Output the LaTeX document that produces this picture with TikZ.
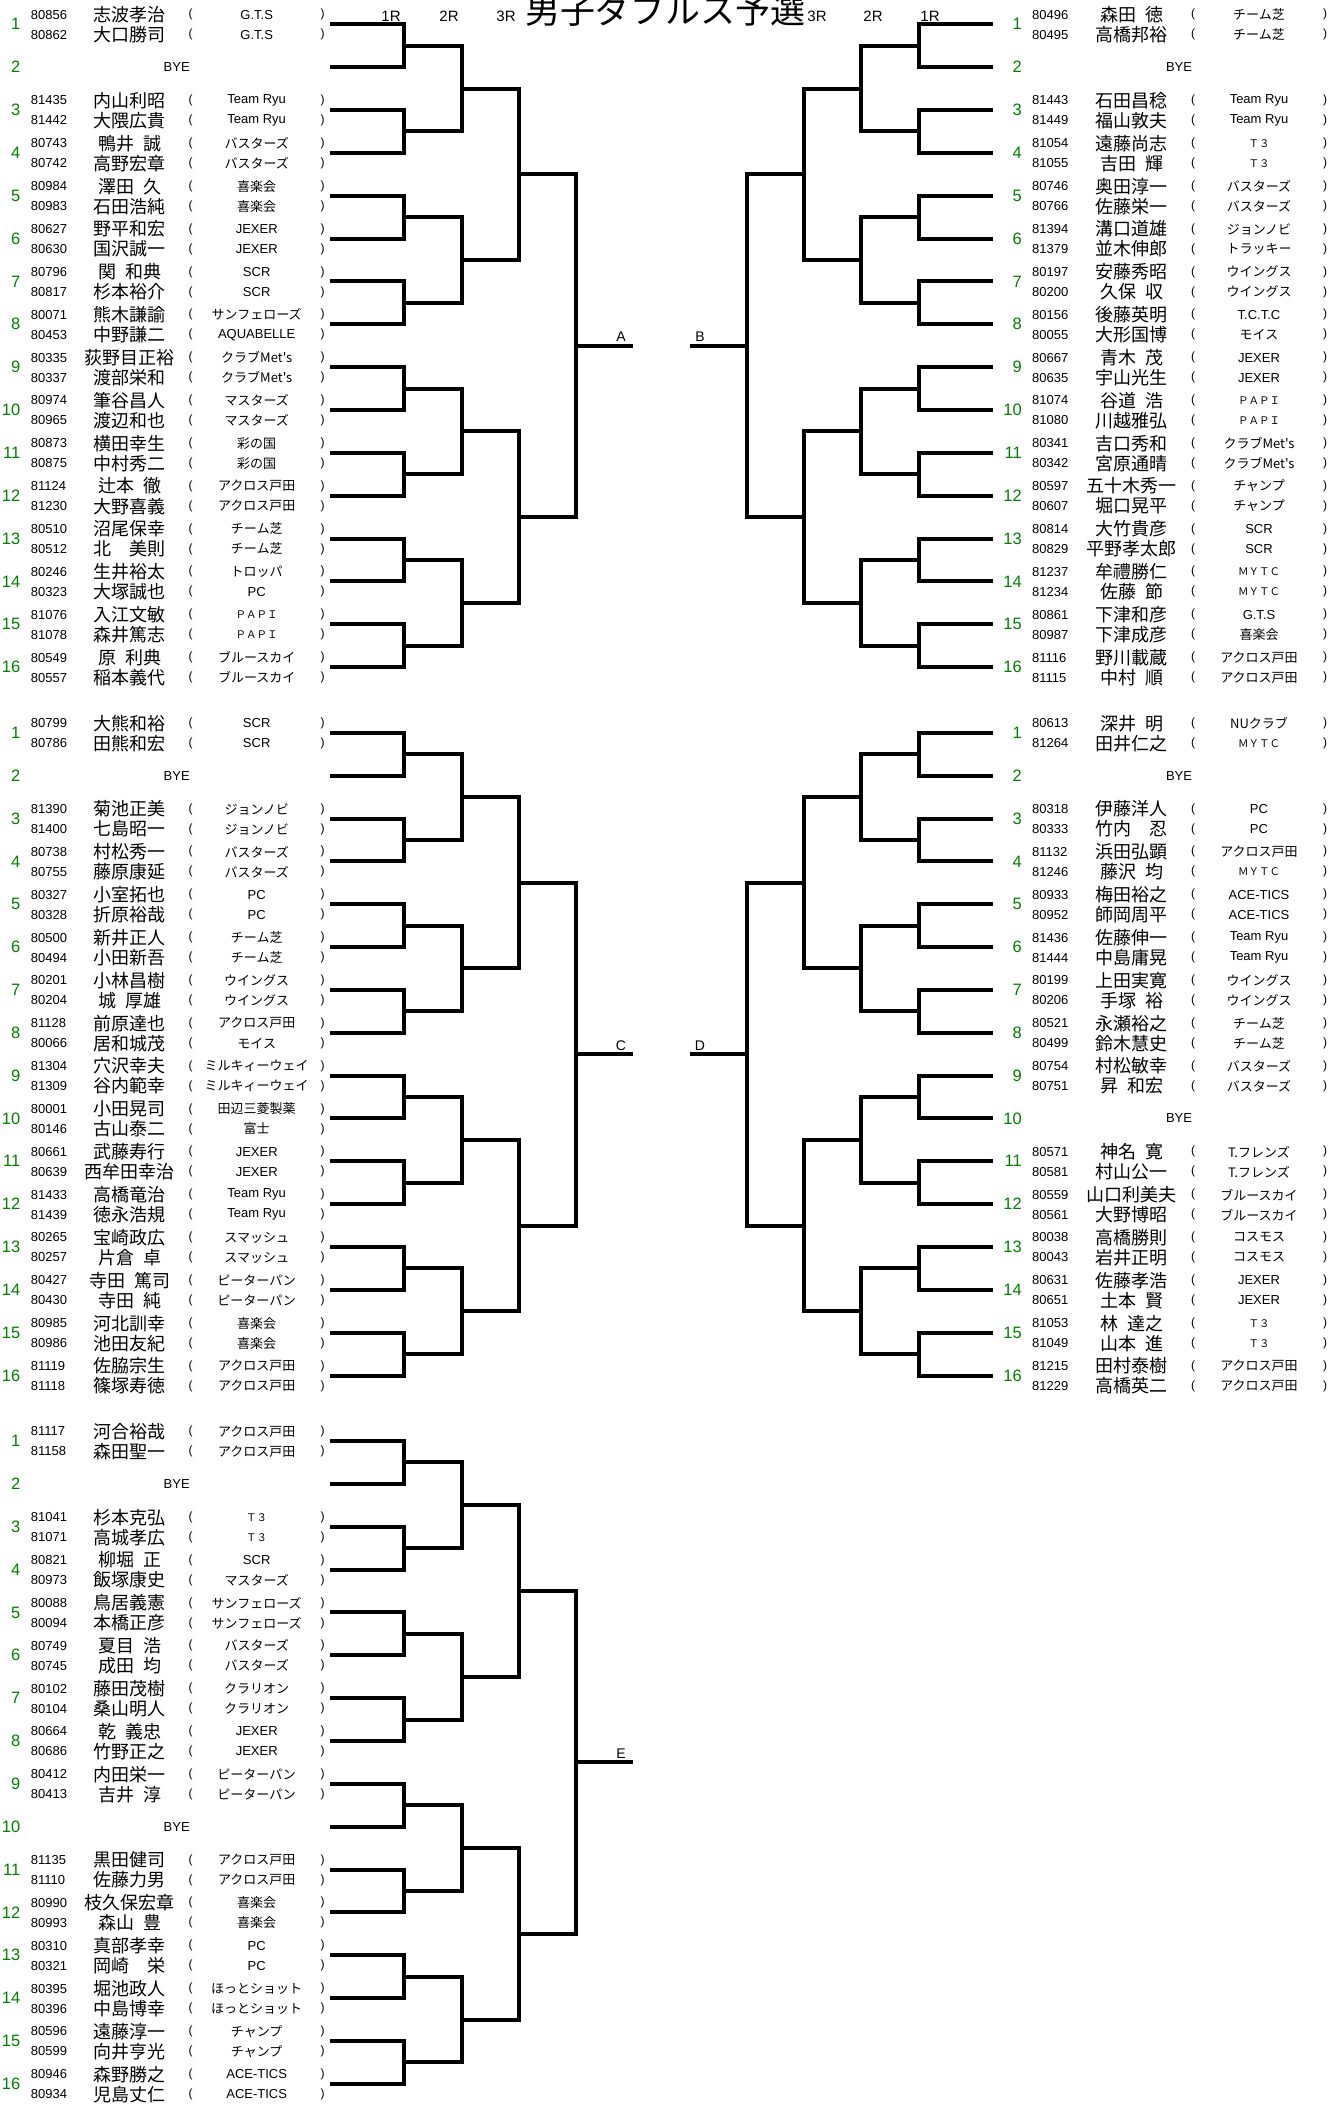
\documentclass[tikz,border=0pt]{standalone}
\usepackage{fontspec}
\setmainfont{Liberation Sans}
\newfontfamily\jp{Noto Sans CJK JP}
\definecolor{seedgreen}{RGB}{0,128,0}
\newcommand\hs{\hspace{0.5em}}
\newcommand\J[1]{{\jp #1}}
\newcommand\F[1]{{\jp\fontsize{10.5}{10.5}\selectfont #1}}
\newcommand\DD{42.85}
\newcommand\sideL{\def\xS{20.5}\def\xI{30.7}\def\xN{129.5}\def\xP{190.7}\def\xT{256.7}\def\xQ{322.7}\def\xE{330}\def\xB{176.7}%
  \def\xa{404}\def\xb{461.5}\def\xc{518.5}\def\xd{575.5}\def\xf{632.5}}
\newcommand\sideR{\def\xS{1022}\def\xI{1032}\def\xN{1131.7}\def\xP{1193}\def\xT{1259}\def\xQ{1325}\def\xE{992.5}\def\xB{1179}%
  \def\xa{918.5}\def\xb{861}\def\xc{804}\def\xd{747}\def\xf{690}}
\newcommand\pr[7]{%
  \pgfmathsetmacro\yy{\secY+(#1-1)*\DD}%
  \node[seed] (\SN-s#1) at (\xS,\yy) {#1};
  \node[idt] (\SN-i#1a) at (\xI,\yy-9.5) {#2};
  \node[nm] (\SN-n#1a) at (\xN,\yy-9.5) {#3};
  \node[par] (\SN-p#1a) at (\xP,\yy-9.5) {(};
  \node[tm] (\SN-t#1a) at (\xT,\yy-9.5) {#4};
  \node[par] (\SN-q#1a) at (\xQ,\yy-9.5) {)};
  \node[idt] (\SN-i#1b) at (\xI,\yy+10.5) {#5};
  \node[nm] (\SN-n#1b) at (\xN,\yy+10.5) {#6};
  \node[par] (\SN-p#1b) at (\xP,\yy+10.5) {(};
  \node[tm] (\SN-t#1b) at (\xT,\yy+10.5) {#7};
  \node[par] (\SN-q#1b) at (\xQ,\yy+10.5) {)};
  \coordinate (\SN-e#1) at (\xE,\yy);
}
\newcommand\byerow[1]{%
  \pgfmathsetmacro\yy{\secY+(#1-1)*\DD}%
  \node[seed] (\SN-s#1) at (\xS,\yy) {#1};
  \node[bye] (\SN-bye#1) at (\xB,\yy) {BYE};
  \coordinate (\SN-e#1) at (\xE,\yy);
}
\newcommand\brk{%
  \foreach \j in {1,...,8}{%
    \pgfmathtruncatemacro\ia{2*\j-1}\pgfmathtruncatemacro\ib{2*\j}%
    \coordinate (\SN-m1-\j) at (\xa,{\secY+(2*\j-1.5)*\DD});
    \draw[br] (\SN-e\ia) -| (\SN-m1-\j) |- (\SN-e\ib);
  }
  \foreach \k in {1,...,4}{%
    \pgfmathtruncatemacro\ia{2*\k-1}\pgfmathtruncatemacro\ib{2*\k}%
    \coordinate (\SN-m2-\k) at (\xb,{\secY+(4*\k-2.5)*\DD});
    \draw[br] (\SN-m1-\ia) -| (\SN-m2-\k) |- (\SN-m1-\ib);
  }
  \foreach \k in {1,2}{%
    \pgfmathtruncatemacro\ia{2*\k-1}\pgfmathtruncatemacro\ib{2*\k}%
    \coordinate (\SN-m3-\k) at (\xc,{\secY+(8*\k-4.5)*\DD});
    \draw[br] (\SN-m2-\ia) -| (\SN-m3-\k) |- (\SN-m2-\ib);
  }
  \coordinate (\SN-m4) at (\xd,{\secY+7.5*\DD});
  \coordinate (\SN-end) at (\xf,{\secY+7.5*\DD});
  \draw[br] (\SN-m3-1) -| (\SN-m4) |- (\SN-m3-2);
  \draw[br] (\SN-m4) -- (\SN-end);
}
\begin{document}
\begin{tikzpicture}[x=1pt,y=-1pt,
  seed/.style={font=\fontsize{16.5}{17}\selectfont, text=seedgreen, inner sep=0pt, anchor=east},
  idt/.style={font=\fontsize{13}{13}\selectfont, inner sep=0pt, anchor=west},
  nm/.style={font=\jp\fontsize{18}{18}\selectfont, inner sep=0pt},
  tm/.style={font=\fontsize{13}{13}\selectfont, inner sep=0pt},
  par/.style={font=\fontsize{12}{12}\selectfont, inner sep=0pt},
  bye/.style={font=\fontsize{13}{13}\selectfont, inner sep=0pt},
  br/.style={line width=4pt, line join=miter, line cap=butt},
  rnd/.style={font=\fontsize{15}{15}\selectfont, inner sep=0pt},
  lab/.style={font=\fontsize{14}{14}\selectfont, inner sep=0pt},
  ttl/.style={font=\jp\fontsize{35}{35}\selectfont, inner sep=0pt},
]
\fill[white] (0,0) rectangle (1334,2111);
\useasboundingbox (0,0) rectangle (1334,2111);
\begin{scope}
\clip (0,0) rectangle (1334,2111);
\node[ttl, anchor=base] (title) at (665,24) {男子ダブルス予選};
\end{scope}
\node[rnd] (rL1) at (391,16) {1R};
\node[rnd] (rL2) at (449,16) {2R};
\node[rnd] (rL3) at (506,16) {3R};
\node[rnd] (rR3) at (817,16) {3R};
\node[rnd] (rR2) at (873,16) {2R};
\node[rnd] (rR1) at (930,16) {1R};

% ---------------- A
\def\SN{A}\def\secY{24.3}\sideL
\pr{1}{80856}{志波孝治}{G.T.S}{80862}{大口勝司}{G.T.S}
\byerow{2}
\pr{3}{81435}{内山利昭}{Team Ryu}{81442}{大隈広貴}{Team Ryu}
\pr{4}{80743}{鴨井\hs 誠}{\J{バスターズ}}{80742}{高野宏章}{\J{バスターズ}}
\pr{5}{80984}{澤田\hs 久}{\J{喜楽会}}{80983}{石田浩純}{\J{喜楽会}}
\pr{6}{80627}{野平和宏}{JEXER}{80630}{国沢誠一}{JEXER}
\pr{7}{80796}{関\hs 和典}{SCR}{80817}{杉本裕介}{SCR}
\pr{8}{80071}{熊木謙諭}{\J{サンフェローズ}}{80453}{中野謙二}{AQUABELLE}
\pr{9}{80335}{荻野目正裕}{\J{クラブMet's}}{80337}{渡部栄和}{\J{クラブMet's}}
\pr{10}{80974}{筆谷昌人}{\J{マスターズ}}{80965}{渡辺和也}{\J{マスターズ}}
\pr{11}{80873}{横田幸生}{\J{彩の国}}{80875}{中村秀二}{\J{彩の国}}
\pr{12}{81124}{辻本\hs 徹}{\J{アクロス戸田}}{81230}{大野喜義}{\J{アクロス戸田}}
\pr{13}{80510}{沼尾保幸}{\J{チーム芝}}{80512}{北　美則}{\J{チーム芝}}
\pr{14}{80246}{生井裕太}{\J{トロッパ}}{80323}{大塚誠也}{PC}
\pr{15}{81076}{入江文敏}{\F{ＰＡＰＩ}}{81078}{森井篤志}{\F{ＰＡＰＩ}}
\pr{16}{80549}{原\hs 利典}{\J{ブルースカイ}}{80557}{稲本義代}{\J{ブルースカイ}}
\brk
\node[lab] (labA) at (621,{24.3+7.5*\DD-9}) {A};

% ---------------- B
\def\SN{B}\def\secY{24.3}\sideR
\pr{1}{80496}{森田\hs 徳}{\J{チーム芝}}{80495}{高橋邦裕}{\J{チーム芝}}
\byerow{2}
\pr{3}{81443}{石田昌稔}{Team Ryu}{81449}{福山敦夫}{Team Ryu}
\pr{4}{81054}{遠藤尚志}{\F{Ｔ３}}{81055}{吉田\hs 輝}{\F{Ｔ３}}
\pr{5}{80746}{奥田淳一}{\J{バスターズ}}{80766}{佐藤栄一}{\J{バスターズ}}
\pr{6}{81394}{溝口道雄}{\J{ジョンノビ}}{81379}{並木伸郎}{\J{トラッキー}}
\pr{7}{80197}{安藤秀昭}{\J{ウイングス}}{80200}{久保\hs 収}{\J{ウイングス}}
\pr{8}{80156}{後藤英明}{T.C.T.C}{80055}{大形国博}{\J{モイス}}
\pr{9}{80667}{青木\hs 茂}{JEXER}{80635}{宇山光生}{JEXER}
\pr{10}{81074}{谷道\hs 浩}{\F{ＰＡＰＩ}}{81080}{川越雅弘}{\F{ＰＡＰＩ}}
\pr{11}{80341}{吉口秀和}{\J{クラブMet's}}{80342}{宮原通晴}{\J{クラブMet's}}
\pr{12}{80597}{五十木秀一}{\J{チャンプ}}{80607}{堀口晃平}{\J{チャンプ}}
\pr{13}{80814}{大竹貴彦}{SCR}{80829}{平野孝太郎}{SCR}
\pr{14}{81237}{牟禮勝仁}{\F{ＭＹＴＣ}}{81234}{佐藤\hs 節}{\F{ＭＹＴＣ}}
\pr{15}{80861}{下津和彦}{G.T.S}{80987}{下津成彦}{\J{喜楽会}}
\pr{16}{81116}{野川載蔵}{\J{アクロス戸田}}{81115}{中村\hs 順}{\J{アクロス戸田}}
\brk
\node[lab] (labB) at (700,{24.3+7.5*\DD-9}) {B};

% ---------------- C
\def\SN{C}\def\secY{732.8}\sideL
\pr{1}{80799}{大熊和裕}{SCR}{80786}{田熊和宏}{SCR}
\byerow{2}
\pr{3}{81390}{菊池正美}{\J{ジョンノビ}}{81400}{七島昭一}{\J{ジョンノビ}}
\pr{4}{80738}{村松秀一}{\J{バスターズ}}{80755}{藤原康延}{\J{バスターズ}}
\pr{5}{80327}{小室拓也}{PC}{80328}{折原裕哉}{PC}
\pr{6}{80500}{新井正人}{\J{チーム芝}}{80494}{小田新吾}{\J{チーム芝}}
\pr{7}{80201}{小林昌樹}{\J{ウイングス}}{80204}{城\hs 厚雄}{\J{ウイングス}}
\pr{8}{81128}{前原達也}{\J{アクロス戸田}}{80066}{居和城茂}{\J{モイス}}
\pr{9}{81304}{穴沢幸夫}{\J{ミルキィーウェイ}}{81309}{谷内範幸}{\J{ミルキィーウェイ}}
\pr{10}{80001}{小田晃司}{\J{田辺三菱製薬}}{80146}{古山泰二}{\J{富士}}
\pr{11}{80661}{武藤寿行}{JEXER}{80639}{西牟田幸治}{JEXER}
\pr{12}{81433}{高橋竜治}{Team Ryu}{81439}{徳永浩規}{Team Ryu}
\pr{13}{80265}{宝崎政広}{\J{スマッシュ}}{80257}{片倉\hs 卓}{\J{スマッシュ}}
\pr{14}{80427}{寺田\hs 篤司}{\J{ピーターパン}}{80430}{寺田\hs 純}{\J{ピーターパン}}
\pr{15}{80985}{河北訓幸}{\J{喜楽会}}{80986}{池田友紀}{\J{喜楽会}}
\pr{16}{81119}{佐脇宗生}{\J{アクロス戸田}}{81118}{篠塚寿徳}{\J{アクロス戸田}}
\brk
\node[lab] (labC) at (621,{732.8+7.5*\DD-9}) {C};

% ---------------- D
\def\SN{D}\def\secY{732.8}\sideR
\pr{1}{80613}{深井\hs 明}{\J{NUクラブ}}{81264}{田井仁之}{\F{ＭＹＴＣ}}
\byerow{2}
\pr{3}{80318}{伊藤洋人}{PC}{80333}{竹内　忍}{PC}
\pr{4}{81132}{浜田弘顕}{\J{アクロス戸田}}{81246}{藤沢\hs 均}{\F{ＭＹＴＣ}}
\pr{5}{80933}{梅田裕之}{ACE-TICS}{80952}{師岡周平}{ACE-TICS}
\pr{6}{81436}{佐藤伸一}{Team Ryu}{81444}{中島庸晃}{Team Ryu}
\pr{7}{80199}{上田実寛}{\J{ウイングス}}{80206}{手塚\hs 裕}{\J{ウイングス}}
\pr{8}{80521}{永瀬裕之}{\J{チーム芝}}{80499}{鈴木慧史}{\J{チーム芝}}
\pr{9}{80754}{村松敏幸}{\J{バスターズ}}{80751}{昇\hs 和宏}{\J{バスターズ}}
\byerow{10}
\pr{11}{80571}{神名\hs 寛}{\J{T.フレンズ}}{80581}{村山公一}{\J{T.フレンズ}}
\pr{12}{80559}{山口利美夫}{\J{ブルースカイ}}{80561}{大野博昭}{\J{ブルースカイ}}
\pr{13}{80038}{高橋勝則}{\J{コスモス}}{80043}{岩井正明}{\J{コスモス}}
\pr{14}{80631}{佐藤孝浩}{JEXER}{80651}{土本\hs 賢}{JEXER}
\pr{15}{81053}{林\hs 達之}{\F{Ｔ３}}{81049}{山本\hs 進}{\F{Ｔ３}}
\pr{16}{81215}{田村泰樹}{\J{アクロス戸田}}{81229}{高橋英二}{\J{アクロス戸田}}
\brk
\node[lab] (labD) at (700,{732.8+7.5*\DD-9}) {D};

% ---------------- E
\def\SN{E}\def\secY{1441}\sideL
\pr{1}{81117}{河合裕哉}{\J{アクロス戸田}}{81158}{森田聖一}{\J{アクロス戸田}}
\byerow{2}
\pr{3}{81041}{杉本克弘}{\F{Ｔ３}}{81071}{高城孝広}{\F{Ｔ３}}
\pr{4}{80821}{柳堀\hs 正}{SCR}{80973}{飯塚康史}{\J{マスターズ}}
\pr{5}{80088}{鳥居義憲}{\J{サンフェローズ}}{80094}{本橋正彦}{\J{サンフェローズ}}
\pr{6}{80749}{夏目\hs 浩}{\J{バスターズ}}{80745}{成田\hs 均}{\J{バスターズ}}
\pr{7}{80102}{藤田茂樹}{\J{クラリオン}}{80104}{桑山明人}{\J{クラリオン}}
\pr{8}{80664}{乾\hs 義忠}{JEXER}{80686}{竹野正之}{JEXER}
\pr{9}{80412}{内田栄一}{\J{ピーターパン}}{80413}{吉井\hs 淳}{\J{ピーターパン}}
\byerow{10}
\pr{11}{81135}{黒田健司}{\J{アクロス戸田}}{81110}{佐藤力男}{\J{アクロス戸田}}
\pr{12}{80990}{枝久保宏章}{\J{喜楽会}}{80993}{森山\hs 豊}{\J{喜楽会}}
\pr{13}{80310}{真部孝幸}{PC}{80321}{岡崎　栄}{PC}
\pr{14}{80395}{堀池政人}{\J{ほっとショット}}{80396}{中島博幸}{\J{ほっとショット}}
\pr{15}{80596}{遠藤淳一}{\J{チャンプ}}{80599}{向井亨光}{\J{チャンプ}}
\pr{16}{80946}{森野勝之}{ACE-TICS}{80934}{児島丈仁}{ACE-TICS}
\brk
\node[lab] (labE) at (621,{1441+7.5*\DD-9}) {E};
\end{tikzpicture}
\end{document}
